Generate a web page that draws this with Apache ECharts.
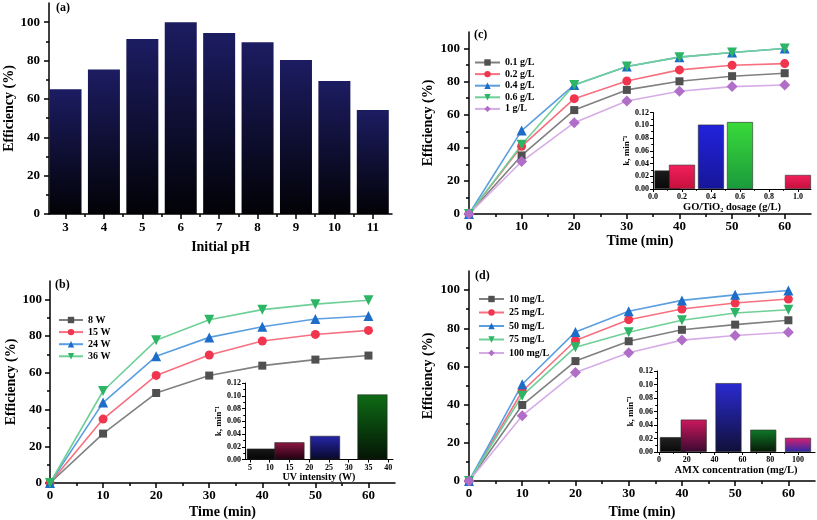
<!DOCTYPE html>
<html><head><meta charset="utf-8">
<script src="https://cdn.jsdelivr.net/npm/echarts@6/dist/echarts.min.js"></script>
<style>html,body{margin:0;padding:0;background:#fff}#c{width:817px;height:520px}</style>
</head><body><div id="c"></div>
<script>
// ---------------- data ----------------
const pH = [3, 4, 5, 6, 7, 8, 9, 10, 11];
const pHEff = [65.0, 75.3, 91.2, 100, 94.3, 89.6, 80.3, 69.4, 54.2];

const time = [0, 10, 20, 30, 40, 50, 60];

const uvNames = ['8 W', '15 W', '24 W', '36 W'];
const uv8W  = [0, 26.9, 49.0, 58.5, 63.9, 67.2, 69.4];
const uv15W = [0, 34.8, 58.6, 69.7, 77.3, 80.9, 83.1];
const uv24W = [0, 43.8, 69.0, 79.3, 85.1, 89.3, 90.9];
const uv36W = [0, 50.1, 77.7, 88.9, 94.4, 97.4, 99.5];

const doseNames = ['0.1 g/L', '0.2 g/L', '0.4 g/L', '0.6 g/L', '1 g/L'];
const dose01 = [0, 35.4, 62.8, 75.0, 80.2, 83.3, 85.1];
const dose02 = [0, 40.9, 69.7, 80.4, 87.1, 89.9, 90.9];
const dose04 = [0, 50.4, 78.0, 89.1, 94.8, 97.6, 100];
const dose06 = [0, 41.9, 78.0, 89.1, 94.8, 97.6, 100];
const dose1  = [0, 31.7, 55.2, 68.3, 74.2, 77.0, 78.0];

const amxNames = ['10 mg/L', '25 mg/L', '50 mg/L', '75 mg/L', '100 mg/L'];
const amx10  = [0, 39.8, 62.8, 73.2, 79.2, 81.9, 84.2];
const amx25  = [0, 47.0, 73.6, 84.5, 90.1, 93.2, 95.3];
const amx50  = [0, 50.7, 78.1, 88.9, 94.6, 97.5, 99.8];
const amx75  = [0, 44.7, 70.1, 77.9, 84.2, 88.0, 89.7];
const amx100 = [0, 34.2, 56.8, 67.2, 73.8, 76.2, 77.9];

// insets: rate constants k (min^-1)
const doseX = [0.1, 0.2, 0.4, 0.6, 1.0];
const doseK = [0.029, 0.038, 0.101, 0.105, 0.022];
const uvX = [8, 15, 24, 36];
const uvK = [0.017, 0.027, 0.037, 0.102];
const amxX = [10, 25, 50, 75, 100];
const amxK = [0.022, 0.048, 0.102, 0.033, 0.021];

// tick values
const effTicks = [0, 20, 40, 60, 80, 100];
const effMinor = [10, 30, 50, 70, 90];
const timeTicks = [0, 10, 20, 30, 40, 50, 60];
const timeMinor = [5, 15, 25, 35, 45, 55];
const pHTicks = [3, 4, 5, 6, 7, 8, 9, 10, 11];
const pHMinor = [3.5, 4.5, 5.5, 6.5, 7.5, 8.5, 9.5, 10.5];
const kTicks = [0, 0.02, 0.04, 0.06, 0.08, 0.10, 0.12];
const kMinor = [0.01, 0.03, 0.05, 0.07, 0.09, 0.11];
const doseTicks = [0, 0.2, 0.4, 0.6, 0.8, 1.0];
const doseMinor = [0.1, 0.3, 0.5, 0.7, 0.9];
const uvTicks = [5, 10, 15, 20, 25, 30, 35, 40];
const amxTicks = [0, 20, 40, 60, 80, 100];
const amxMinor = [10, 30, 50, 70, 90];

// ---------------- styling / building ----------------
const FONT = '"Liberation Serif","Times New Roman",serif';
const xAxes = [], yAxes = [];

function addAxis(isX, cfg) {
  const list = isX ? xAxes : yAxes;
  const idx = list.length;
  const base = {
    type: 'value', gridIndex: cfg.grid, min: cfg.min, max: cfg.max,
    position: isX ? 'bottom' : 'left', splitLine: { show: false }
  };
  const lw = cfg.lw || 1.5;
  list.push(Object.assign({}, base, {
    axisLine: { show: true, onZero: false, lineStyle: { color: '#000', width: lw } },
    axisTick: { show: true, inside: false, length: cfg.tl, customValues: cfg.ticks, lineStyle: { color: '#000', width: lw } },
    axisLabel: { show: true, customValues: cfg.ticks, formatter: cfg.fmt, margin: cfg.margin,
      fontFamily: FONT, fontWeight: 'bold', fontSize: cfg.fs, color: '#000' },
    name: cfg.name, nameLocation: 'middle', nameGap: cfg.gap,
    nameTextStyle: { fontFamily: FONT, fontWeight: 'bold', fontSize: cfg.nfs, color: '#000' }
  }));
  if (cfg.minor && cfg.minor.length) {
    list.push(Object.assign({}, base, {
      axisLine: { show: false, onZero: false },
      axisTick: { show: true, inside: false, length: cfg.tl * 0.6, customValues: cfg.minor, lineStyle: { color: '#000', width: lw } },
      axisLabel: { show: false }
    }));
  }
  return idx;
}

const grids = [
  { left: 49, top: 3, width: 343, height: 211 },     // 0 (a)
  { left: 469, top: 32, width: 342, height: 182 },   // 1 (c)
  { left: 50, top: 281, width: 345, height: 202 },   // 2 (b)
  { left: 469, top: 271, width: 346, height: 211 },  // 3 (d)
  { left: 653, top: 112.5, width: 158, height: 76.5 }, // 4 inset c
  { left: 245, top: 383, width: 148, height: 76.5 },   // 5 inset b
  { left: 657, top: 371, width: 158, height: 81 }      // 6 inset d
];

const f0 = v => String(v);
const f1 = v => v.toFixed(1);
const f2 = v => v.toFixed(2);

// main panels
const ax = {};
ax.aX = addAxis(true, { grid: 0, min: 2.57, max: 11.5, ticks: pHTicks, minor: pHMinor, tl: 5, fmt: f0, margin: 7, fs: 13, name: 'Initial pH', gap: 26, nfs: 14 });
ax.aY = addAxis(false, { grid: 0, min: 0, max: 110, ticks: effTicks, minor: effMinor, tl: 5, fmt: f0, margin: 9, fs: 13, name: 'Efficiency (%)', gap: 33, nfs: 14 });
ax.cX = addAxis(true, { grid: 1, min: 0, max: 65, ticks: timeTicks, minor: timeMinor, tl: 5, fmt: f0, margin: 6, fs: 13, name: 'Time (min)', gap: 20, nfs: 14 });
ax.cY = addAxis(false, { grid: 1, min: 0, max: 110, ticks: effTicks, minor: effMinor, tl: 5, fmt: f0, margin: 9, fs: 13, name: 'Efficiency (%)', gap: 34, nfs: 14 });
ax.bX = addAxis(true, { grid: 2, min: 0, max: 65, ticks: timeTicks, minor: timeMinor, tl: 5, fmt: f0, margin: 6, fs: 13, name: 'Time (min)', gap: 22, nfs: 14 });
ax.bY = addAxis(false, { grid: 2, min: 0, max: 110, ticks: effTicks, minor: effMinor, tl: 5, fmt: f0, margin: 8, fs: 13, name: 'Efficiency (%)', gap: 32, nfs: 14 });
ax.dX = addAxis(true, { grid: 3, min: 0, max: 65, ticks: timeTicks, minor: timeMinor, tl: 5, fmt: f0, margin: 6, fs: 13, name: 'Time (min)', gap: 24, nfs: 14 });
ax.dY = addAxis(false, { grid: 3, min: 0, max: 110, ticks: effTicks, minor: effMinor, tl: 5, fmt: f0, margin: 9, fs: 13, name: 'Efficiency (%)', gap: 34, nfs: 14 });
// insets
ax.icX = addAxis(true, { grid: 4, min: 0, max: 1.09, ticks: doseTicks, minor: doseMinor, tl: 3, lw: 1, fmt: f1, margin: 4, fs: 8, name: 'GO/TiO\u2082 dosage (g/L)', gap: 11, nfs: 10.5 });
ax.icY = addAxis(false, { grid: 4, min: 0, max: 0.12, ticks: kTicks, minor: kMinor, tl: 3, lw: 1, fmt: f2, margin: 4, fs: 8, name: 'k, min\u207B\u00B9', gap: 22, nfs: 9 });
ax.ibX = addAxis(true, { grid: 5, min: 3.75, max: 41.2, ticks: uvTicks, minor: [], tl: 3, lw: 1, fmt: f0, margin: 4, fs: 8, name: 'UV intensity (W)', gap: 11, nfs: 10 });
ax.ibY = addAxis(false, { grid: 5, min: 0, max: 0.12, ticks: kTicks, minor: kMinor, tl: 3, lw: 1, fmt: f2, margin: 4, fs: 8, name: 'k, min\u207B\u00B9', gap: 22, nfs: 9 });
ax.idX = addAxis(true, { grid: 6, min: -1.4, max: 112.2, ticks: amxTicks, minor: amxMinor, tl: 3, lw: 1, fmt: f0, margin: 4, fs: 8, name: 'AMX concentration (mg/L)', gap: 13, nfs: 10.5 });
ax.idY = addAxis(false, { grid: 6, min: 0, max: 0.12, ticks: kTicks, minor: kMinor, tl: 3, lw: 1, fmt: f2, margin: 4, fs: 8, name: 'k, min\u207B\u00B9', gap: 21, nfs: 9 });

const mkStyles = [
  { sym: 'rect', size: 8, mc: '#505050', lc: '#808080' },
  { sym: 'circle', size: 9, mc: '#f0364e', lc: '#f77080' },
  { sym: 'triangle', size: 10, mc: '#1c6cc8', lc: '#5c9fe0' },
  { sym: 'triangle', size: 10, rot: 180, mc: '#2db566', lc: '#6fd097' },
  { sym: 'diamond', size: 11, mc: '#b06ec8', lc: '#d6ace6' }
];

function lineSeries(name, vals, st, xi, yi) {
  return {
    type: 'line', name: name, xAxisIndex: xi, yAxisIndex: yi,
    data: time.map((t, i) => [t, vals[i]]),
    symbol: st.sym, symbolSize: st.size, symbolRotate: st.rot || 0, symbolKeepAspect: true,
    lineStyle: { color: st.lc, width: 1.6 }, itemStyle: { color: st.mc },
    emphasis: { disabled: true }, silent: true
  };
}

function grad(top, bottom) {
  return { type: 'linear', x: 0, y: 0, x2: 0, y2: 1, colorStops: [{ offset: 0, color: top }, { offset: 1, color: bottom }] };
}

function insetBars(xs, ks, cols, width, xi, yi) {
  return {
    type: 'bar', xAxisIndex: xi, yAxisIndex: yi, barWidth: width, silent: true,
    data: xs.map((x, i) => ({ value: [x, ks[i]], itemStyle: { color: grad(cols[i][0], cols[i][1]), borderColor: '#2a2a2a', borderWidth: 0.6 } }))
  };
}

const colsC = [['#1c1c1c', '#080808'], ['#f2205c', '#c4103c'], ['#2222dc', '#16169a'], ['#3ada3a', '#1a9a3c'], ['#f2205c', '#c4103c']];
const colsB = [['#181818', '#040404'], ['#8c1842', '#1e0010'], ['#2626aa', '#080828'], ['#0e6c16', '#041404']];
const colsD = [['#222222', '#080808'], ['#cc185e', '#3a0a30'], ['#2a2ad2', '#101038'], ['#10782a', '#061806'], ['#d82070', '#2a2aa8']];

const series = [];
// (a)
series.push({
  type: 'bar', xAxisIndex: ax.aX, yAxisIndex: ax.aY, barWidth: 32, silent: true,
  data: pH.map((p, i) => [p, pHEff[i]]),
  itemStyle: { color: grad('#1c1c62', '#020206') }
});
// (b)
[uv8W, uv15W, uv24W, uv36W].forEach((d, i) => series.push(lineSeries(uvNames[i], d, mkStyles[i], ax.bX, ax.bY)));
// (c)
[dose01, dose02, dose04, dose06, dose1].forEach((d, i) => series.push(lineSeries(doseNames[i], d, mkStyles[i], ax.cX, ax.cY)));
// (d)
[amx10, amx25, amx50, amx75, amx100].forEach((d, i) => series.push(lineSeries(amxNames[i], d, mkStyles[i], ax.dX, ax.dY)));
// insets
series.push(insetBars(doseX, doseK, colsC, 26, ax.icX, ax.icY));
series.push(insetBars(uvX, uvK, colsB, 30, ax.ibX, ax.ibY));
series.push(insetBars(amxX, amxK, colsD, 26, ax.idX, ax.idY));

function legend(names, left, top, iw, gap) {
  return {
    data: names, left: left, top: top, orient: 'vertical', padding: 0,
    itemWidth: iw, itemHeight: 8, itemGap: gap, selectedMode: false,
    textStyle: { fontFamily: FONT, fontWeight: 'bold', fontSize: 10, color: '#000', lineHeight: 8 }
  };
}

function panelLabel(txt, x, y) {
  return { type: 'text', left: x, top: y, style: { text: txt, fontFamily: FONT, fontWeight: 'bold', fontSize: 12, fill: '#000' } };
}

const chart = echarts.init(document.getElementById('c'), null, { renderer: 'canvas' });
chart.setOption({
  backgroundColor: '#fff',
  animation: false,
  grid: grids,
  xAxis: xAxes,
  yAxis: yAxes,
  legend: [
    legend(uvNames, 58, 315, 24, 2.1),
    legend(doseNames, 474, 57.5, 25, 1.6),
    legend(amxNames, 478, 294, 25, 3.5)
  ],
  graphic: [
    panelLabel('(a)', 56, 2),
    panelLabel('(c)', 474, 29),
    panelLabel('(b)', 55, 279),
    panelLabel('(d)', 475, 270)
  ],
  series: series
});
</script></body></html>
